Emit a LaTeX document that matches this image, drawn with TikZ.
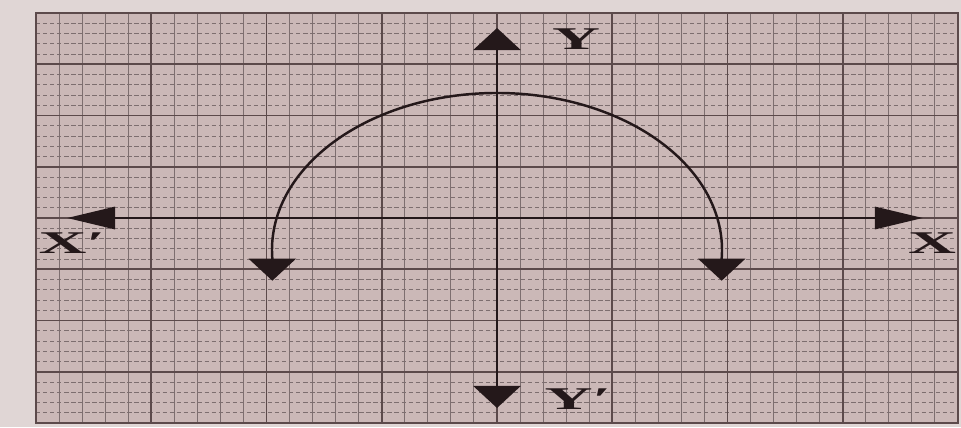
\documentclass[tikz,border=0pt]{standalone}
\usepackage{fontspec}
\setmainfont{Liberation Serif}
\usetikzlibrary{arrows.meta}

\definecolor{paper}{RGB}{203,184,183}
\definecolor{margin}{RGB}{224,214,213}
\definecolor{gridline}{RGB}{92,74,75}
\definecolor{ink}{RGB}{36,24,26}

\tikzset{
  bigH/.tip={Triangle[length=9.6mm,width=4.4mm]},
  bigV/.tip={Triangle[length=4.4mm,width=9.4mm]}
}

\begin{document}
\begin{tikzpicture}[x=2.305cm, y=1.025cm,
    axis/.style={ink, line width=1.7pt},
    curve/.style={ink, line width=1.4pt},
    lbl/.style={font=\fontsize{18}{18}\selectfont\bfseries, text=ink, xscale=2.1, inner sep=0pt}]
		% 背景与坐标纸
		\fill[margin] (-0.3124,-0.078) rectangle (8.026,8.2537);
		\useasboundingbox (-0.3124,-0.078) rectangle (8.026,8.2537);
		\fill[paper] (0,0) rectangle (8,8);
		\foreach \i in {1,...,39}
			\draw[gridline!80, line width=0.6pt] (\i/5,0) -- (\i/5,8);
		\foreach \j in {1,...,39}
			\draw[gridline!80, line width=0.55pt, dash pattern=on 2.5pt off 1.5pt] (0,\j/5) -- (8,\j/5);
		\foreach \i in {1,...,7} {
			\draw[gridline, line width=1.1pt] (\i,0) -- (\i,8);
			\draw[gridline, line width=1.1pt] (0,\i) -- (8,\i);
		}
		\draw[gridline, line width=1.4pt] (0,0) rectangle (8,8);

		% 坐标轴
		\coordinate (xl) at (0.269,4);
		\coordinate (xr) at (7.696,4);
		\coordinate (yt) at (4,7.707);
		\coordinate (yb) at (4,0.293);
		\draw[axis, bigH-bigH] (xl) -- (xr);
		\draw[axis, bigV-bigV] (yb) -- (yt);

		% 曲线, 两端箭头向下
		\coordinate (c) at (4,3.376);
		\coordinate (cl) at ([shift={(183:4.5cm and 3.14cm)}]c);
		\draw[curve, bigV-bigV] ([yshift=-0.45cm]cl) -- (cl)
			arc[start angle=183, end angle=-3, x radius=4.5cm, y radius=3.14cm] -- ++(0,-0.45cm);

		% 标注
		\node[lbl] (ylab) at (4.686,7.493) {Y};
		\node[lbl] (yplab) at (4.703,0.468) {Y′};
		\node[lbl] (xplab) at (0.312,3.512) {X′};
		\node[lbl] (xlab) at (7.775,3.512) {X};
	\end{tikzpicture}
\end{document}
